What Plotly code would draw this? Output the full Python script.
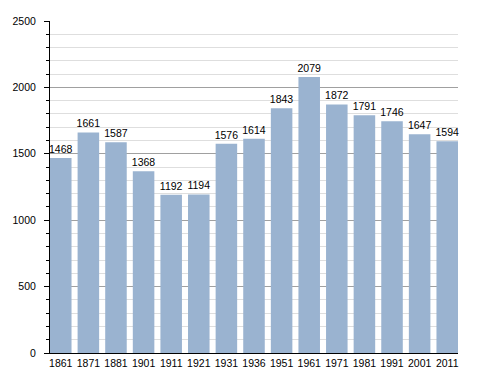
import plotly.graph_objects as go

years = ["1861", "1871", "1881", "1901", "1911", "1921", "1931", "1936",
         "1951", "1961", "1971", "1981", "1991", "2001", "2011"]
population = [1468, 1661, 1587, 1368, 1192, 1194, 1576, 1614,
              1843, 2079, 1872, 1791, 1746, 1647, 1594]

FONT = "Liberation Sans, Arial, sans-serif"
FS = 10.5

fig = go.Figure(go.Bar(
    x=years, y=population,
    marker=dict(color="#9ab3d0", line=dict(width=0)),
    text=[str(v) for v in population],
    textposition="outside",
    constraintext="none",
    textfont=dict(size=FS, color="#000000", family=FONT),
    cliponaxis=False,
))

# page body adds an 8px offset, so the figure is sized to fit the window
fig.update_layout(
    width=480, height=365,
    margin=dict(l=42, r=30, t=13, b=20),
    paper_bgcolor="white", plot_bgcolor="white",
    bargap=0.22,
    showlegend=False,
    font=dict(family=FONT, size=FS, color="#000000"),
)
fig.update_xaxes(
    type="category", range=[-0.39, 14.39], automargin=False,
    showline=True, linecolor="#000000", linewidth=1,
    showgrid=False, ticks="", tickfont=dict(size=FS),
)
fig.update_yaxes(
    range=[0, 2500], dtick=500, automargin=False,
    showline=True, linecolor="#000000", linewidth=1,
    showgrid=True, gridcolor="#a0a0a0", gridwidth=1,
    ticks="outside", ticklen=5, tickcolor="#000000",
    ticklabelstandoff=6,
    zeroline=False,
    minor=dict(dtick=100, showgrid=True, gridcolor="#dedede", ticks="outside",
               ticklen=3, tickcolor="#000000"),
    tickfont=dict(size=FS),
)

fig.write_html("out.html")
